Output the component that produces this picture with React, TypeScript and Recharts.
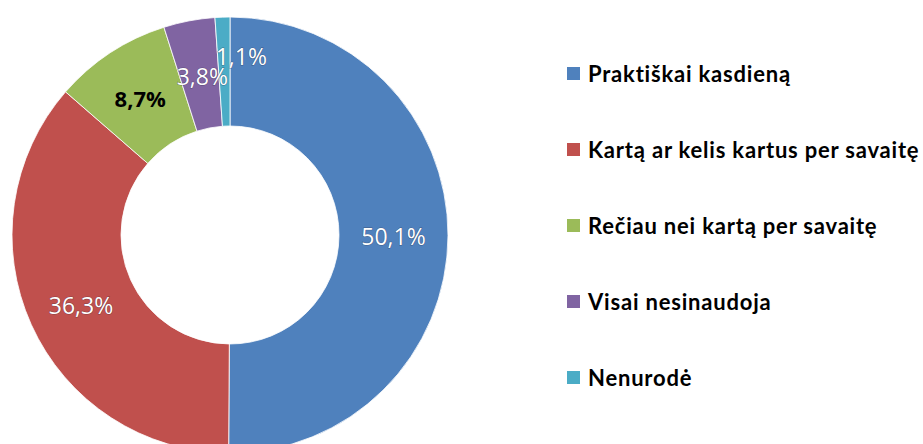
import { PieChart, Pie, Cell } from "recharts";

const categories = [
  "Praktiškai kasdieną",
  "Kartą ar kelis kartus per savaitę",
  "Rečiau nei kartą per savaitę",
  "Visai nesinaudoja",
  "Nenurodė",
];

const shares = [50.1, 36.3, 8.7, 3.8, 1.1];

const colors = ["#4F81BD", "#C0504D", "#9BBB59", "#8064A2", "#4BACC6"];

const data = categories.map((name, i) => ({ name, value: shares[i] }));

// label tweaks: the small slices in the source are not at the ring midpoint
const labelNudge = [
  [0, 0],
  [0, 3],
  [0, 0],
  [3, 2],
  [17, -16],
];
const boldLabel = [false, false, true, false, false];

const RAD = Math.PI / 180;

function renderLabel(props: any) {
  const { cx, cy, midAngle, innerRadius, outerRadius, index, value } = props;
  const r = (innerRadius + outerRadius) / 2;
  const x = cx + r * Math.cos(-midAngle * RAD) + labelNudge[index][0];
  const y = cy + r * Math.sin(-midAngle * RAD) + labelNudge[index][1];
  const bold = boldLabel[index];
  return (
    <text
      x={x}
      y={y}
      textAnchor="middle"
      dominantBaseline="central"
      style={{
        fontFamily: "'Open Sans', sans-serif",
        fontSize: bold ? 22 : 23,
        fontWeight: bold ? 700 : 400,
        fill: bold ? "#000" : "#fff",
        stroke: bold ? "none" : "rgba(40,40,60,0.45)",
        strokeWidth: 1,
        paintOrder: "stroke",
      }}
    >
      {String(value).replace(".", ",") + "%"}
    </text>
  );
}

function ChartLegend() {
  return (
    <div style={styles.legend}>
      {categories.map((name, i) => (
        <div key={name} style={styles.legendRow}>
          <span style={{ ...styles.swatch, background: colors[i] }} />
          <span>{name}</span>
        </div>
      ))}
    </div>
  );
}

export default function App() {
  return (
    <div style={styles.page}>
      <PieChart width={923} height={444} margin={{ top: 0, right: 0, bottom: 0, left: 0 }}>
        <Pie
          data={data}
          dataKey="value"
          nameKey="name"
          cx={230}
          cy={235}
          innerRadius={109}
          outerRadius={218}
          startAngle={90}
          endAngle={-270}
          stroke="#ffffff"
          strokeWidth={0.8}
          label={renderLabel}
          labelLine={false}
          isAnimationActive={false}
        >
          {data.map((_, i) => (
            <Cell key={i} fill={colors[i]} />
          ))}
        </Pie>
      </PieChart>
      <ChartLegend />
    </div>
  );
}

const styles: Record<string, React.CSSProperties> = {
  page: {
    position: "absolute",
    left: 0,
    top: 0,
    width: 923,
    height: 444,
    background: "#fff",
    overflow: "hidden",
  },
  legend: {
    position: "absolute",
    left: 567,
    top: 35.5,
    fontFamily: "Lato, sans-serif",
    fontWeight: 700,
    fontSize: 22,
    letterSpacing: 0.8,
    color: "#000",
  },
  legendRow: {
    display: "flex",
    alignItems: "center",
    height: 76,
    whiteSpace: "nowrap",
  },
  swatch: {
    display: "inline-block",
    width: 13,
    height: 13,
    marginRight: 8,
    flexShrink: 0,
  },
};
